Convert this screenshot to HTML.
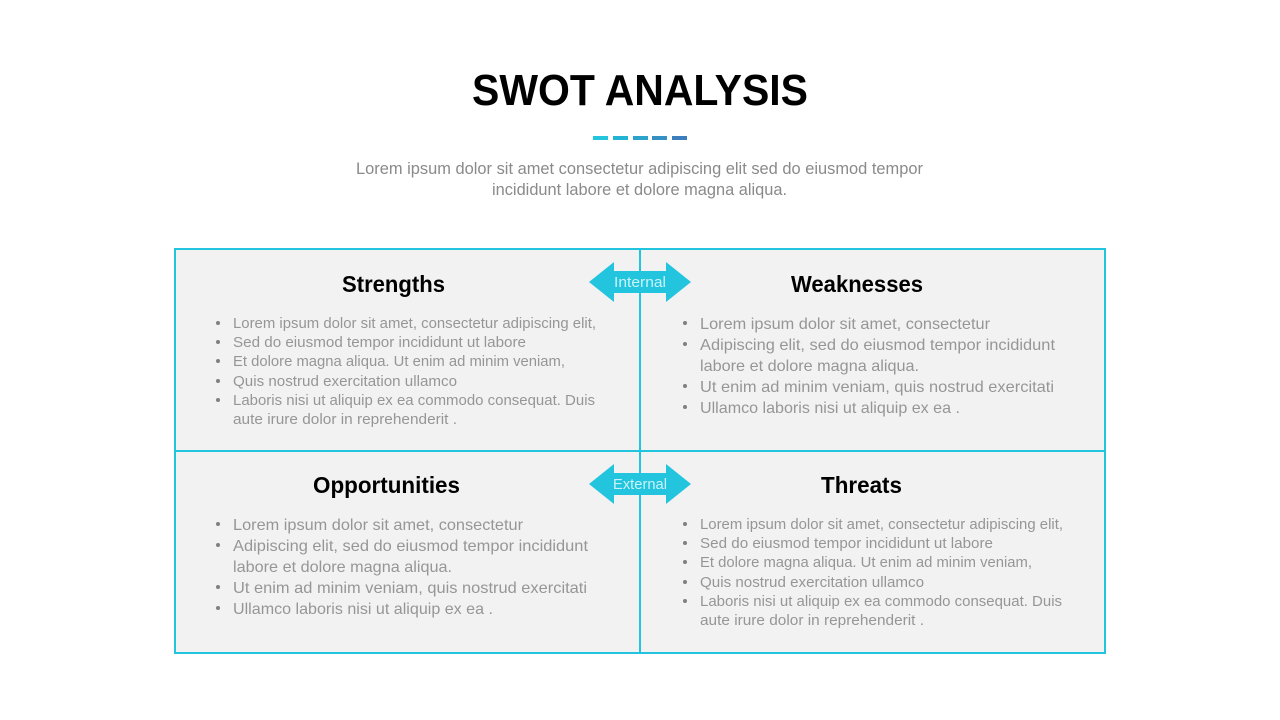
<!DOCTYPE html>
<html><head><meta charset="utf-8"><style>
html,body{margin:0;padding:0;background:#fff;width:1280px;height:720px;overflow:hidden}
svg{display:block}
text{font-family:"Liberation Sans",sans-serif}
.h{font-weight:bold;font-size:23px;fill:#000}
.b{font-size:16px;fill:#969696}
.s{font-size:15px;fill:#969696}
.d{fill:#808080}
.w{font-size:14.5px;fill:#c9f3fa}
</style></head><body>
<svg width="1280" height="720" viewBox="0 0 1280 720" xmlns="http://www.w3.org/2000/svg">
<rect width="1280" height="720" fill="#fff"/>
<text x="472" y="105" font-size="44" font-weight="bold" fill="#000" textLength="336" lengthAdjust="spacingAndGlyphs">SWOT ANALYSIS</text>
<rect x="593" y="136" width="15" height="4" fill="#22c4de"/>
<rect x="613" y="136" width="15" height="4" fill="#25b3d4"/>
<rect x="633" y="136" width="15" height="4" fill="#2ba3cb"/>
<rect x="652" y="136" width="15" height="4" fill="#3590c4"/>
<rect x="672" y="136" width="15" height="4" fill="#3b80bd"/>
<text x="356" y="174" font-size="17" fill="#8a8a8a" textLength="567" lengthAdjust="spacingAndGlyphs">Lorem ipsum dolor sit amet consectetur adipiscing elit sed do eiusmod tempor</text>
<text x="492" y="195" font-size="17" fill="#8a8a8a" textLength="295" lengthAdjust="spacingAndGlyphs">incididunt labore et dolore magna aliqua.</text>

<rect x="175" y="249" width="930" height="404" fill="#f2f2f2" stroke="#22c4de" stroke-width="2"/>
<line x1="640" y1="249" x2="640" y2="653" stroke="#22c4de" stroke-width="2"/>
<line x1="175" y1="451" x2="1105" y2="451" stroke="#22c4de" stroke-width="2"/>

<polygon points="589,282 614,262 614,271 666,271 666,262 691,282 666,302 666,293 614,293 614,302" fill="#22c4de"/>
<polygon points="589,484 614,464 614,473 666,473 666,464 691,484 666,504 666,495 614,495 614,504" fill="#22c4de"/>
<text x="614" y="287" class="w" textLength="52" lengthAdjust="spacingAndGlyphs">Internal</text>
<text x="613" y="489" class="w" textLength="54" lengthAdjust="spacingAndGlyphs">External</text>

<text x="342" y="292" class="h" textLength="103" lengthAdjust="spacingAndGlyphs">Strengths</text>
<text x="791" y="292" class="h" textLength="132" lengthAdjust="spacingAndGlyphs">Weaknesses</text>
<text x="313" y="493" class="h" textLength="147" lengthAdjust="spacingAndGlyphs">Opportunities</text>
<text x="821" y="493" class="h" textLength="81" lengthAdjust="spacingAndGlyphs">Threats</text>

<!-- Strengths -->
<circle class="d" cx="218" cy="323" r="2"/><circle class="d" cx="218" cy="342" r="2"/><circle class="d" cx="218" cy="361" r="2"/><circle class="d" cx="218" cy="381" r="2"/><circle class="d" cx="218" cy="400" r="2"/>
<text class="s" x="233" y="328" textLength="363" lengthAdjust="spacingAndGlyphs">Lorem ipsum dolor sit amet, consectetur adipiscing elit,</text>
<text class="s" x="233" y="347" textLength="293" lengthAdjust="spacingAndGlyphs">Sed do eiusmod tempor incididunt ut labore</text>
<text class="s" x="233" y="366" textLength="332" lengthAdjust="spacingAndGlyphs">Et dolore magna aliqua. Ut enim ad minim veniam,</text>
<text class="s" x="233" y="386" textLength="224" lengthAdjust="spacingAndGlyphs">Quis nostrud exercitation ullamco</text>
<text class="s" x="233" y="405" textLength="362" lengthAdjust="spacingAndGlyphs">Laboris nisi ut aliquip ex ea commodo consequat. Duis</text>
<text class="s" x="233" y="424" textLength="224" lengthAdjust="spacingAndGlyphs">aute irure dolor in reprehenderit .</text>

<!-- Weaknesses -->
<circle class="d" cx="685" cy="323" r="2"/><circle class="d" cx="685" cy="344" r="2"/><circle class="d" cx="685" cy="386" r="2"/><circle class="d" cx="685" cy="407" r="2"/>
<text class="b" x="700" y="329" textLength="290" lengthAdjust="spacingAndGlyphs">Lorem ipsum dolor sit amet, consectetur</text>
<text class="b" x="700" y="350" textLength="355" lengthAdjust="spacingAndGlyphs">Adipiscing elit, sed do eiusmod tempor incididunt</text>
<text class="b" x="700" y="371" textLength="219" lengthAdjust="spacingAndGlyphs">labore et dolore magna aliqua.</text>
<text class="b" x="700" y="392" textLength="354" lengthAdjust="spacingAndGlyphs">Ut enim ad minim veniam, quis nostrud exercitati</text>
<text class="b" x="700" y="413" textLength="260" lengthAdjust="spacingAndGlyphs">Ullamco laboris nisi ut aliquip ex ea .</text>

<!-- Opportunities -->
<circle class="d" cx="218" cy="524" r="2"/><circle class="d" cx="218" cy="545" r="2"/><circle class="d" cx="218" cy="587" r="2"/><circle class="d" cx="218" cy="608" r="2"/>
<text class="b" x="233" y="530" textLength="290" lengthAdjust="spacingAndGlyphs">Lorem ipsum dolor sit amet, consectetur</text>
<text class="b" x="233" y="551" textLength="355" lengthAdjust="spacingAndGlyphs">Adipiscing elit, sed do eiusmod tempor incididunt</text>
<text class="b" x="233" y="572" textLength="219" lengthAdjust="spacingAndGlyphs">labore et dolore magna aliqua.</text>
<text class="b" x="233" y="593" textLength="354" lengthAdjust="spacingAndGlyphs">Ut enim ad minim veniam, quis nostrud exercitati</text>
<text class="b" x="233" y="614" textLength="260" lengthAdjust="spacingAndGlyphs">Ullamco laboris nisi ut aliquip ex ea .</text>

<!-- Threats -->
<circle class="d" cx="685" cy="524" r="2"/><circle class="d" cx="685" cy="543" r="2"/><circle class="d" cx="685" cy="562" r="2"/><circle class="d" cx="685" cy="582" r="2"/><circle class="d" cx="685" cy="601" r="2"/>
<text class="s" x="700" y="529" textLength="363" lengthAdjust="spacingAndGlyphs">Lorem ipsum dolor sit amet, consectetur adipiscing elit,</text>
<text class="s" x="700" y="548" textLength="293" lengthAdjust="spacingAndGlyphs">Sed do eiusmod tempor incididunt ut labore</text>
<text class="s" x="700" y="567" textLength="332" lengthAdjust="spacingAndGlyphs">Et dolore magna aliqua. Ut enim ad minim veniam,</text>
<text class="s" x="700" y="587" textLength="224" lengthAdjust="spacingAndGlyphs">Quis nostrud exercitation ullamco</text>
<text class="s" x="700" y="606" textLength="362" lengthAdjust="spacingAndGlyphs">Laboris nisi ut aliquip ex ea commodo consequat. Duis</text>
<text class="s" x="700" y="625" textLength="224" lengthAdjust="spacingAndGlyphs">aute irure dolor in reprehenderit .</text>
</svg>
</body></html>
